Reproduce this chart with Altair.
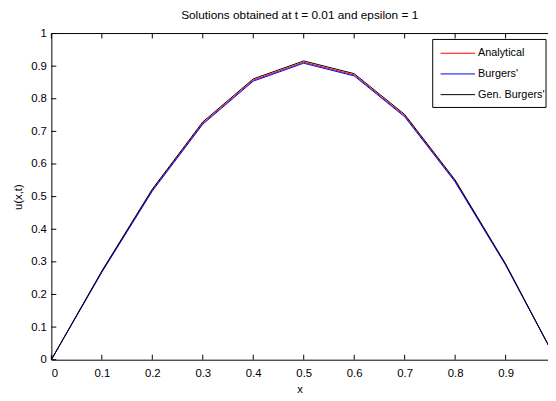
import altair as alt
import pandas as pd

xs = [0.0, 0.1, 0.2, 0.3, 0.4, 0.5, 0.6, 0.7, 0.8, 0.9, 1.0]
analytical = [0.0, 0.270, 0.520, 0.725, 0.857, 0.912, 0.873, 0.748, 0.548, 0.292, 0.0]
burgers = [0.0, 0.268, 0.517, 0.722, 0.854, 0.909, 0.870, 0.745, 0.545, 0.290, 0.0]
gen_burgers = [0.0, 0.272, 0.523, 0.729, 0.861, 0.916, 0.877, 0.752, 0.551, 0.294, 0.0]
series_names = ["Analytical", "Burgers'", "Gen. Burgers'"]
series_colors = ["#ff0000", "#0000ff", "#000000"]
x_ticks = [0.0, 0.1, 0.2, 0.3, 0.4, 0.5, 0.6, 0.7, 0.8, 0.9]
y_ticks = [0.0, 0.1, 0.2, 0.3, 0.4, 0.5, 0.6, 0.7, 0.8, 0.9, 1.0]

rows = []
for name, vals in zip(series_names, [analytical, burgers, gen_burgers]):
    for xv, uv in zip(xs, vals):
        rows.append({"x": xv, "u": uv, "series": name})
df = pd.DataFrame(rows)
xt = pd.DataFrame({"x": x_ticks})
yt = pd.DataFrame({"u": y_ticks})
one = pd.DataFrame({"k": [0]})

W, H = 504, 331
FONT = "Liberation Sans"
xscale = alt.Scale(domain=[0, 0.984], nice=False, zero=False)
yscale = alt.Scale(domain=[0, 1], nice=False)

xaxis = alt.Axis(values=x_ticks, title="x", ticks=False, grid=False,
                 labelPadding=8, titlePadding=5, format="~g",
                 domainColor="black", labelColor="black", titleColor="black",
                 labelFont=FONT, titleFont=FONT, labelFontSize=11.5, titleFontSize=11.5,
                 titleFontWeight="normal")
yaxis = alt.Axis(values=y_ticks, title="u(x,t)", ticks=False, grid=False,
                 labelPadding=5, titlePadding=7, format="~g",
                 domainColor="black", labelColor="black", titleColor="black",
                 labelFont=FONT, titleFont=FONT, labelFontSize=11.5, titleFontSize=11.5,
                 titleFontWeight="normal")

lines = alt.Chart(df).mark_line(clip=True, strokeWidth=1).encode(
    x=alt.X("x:Q", scale=xscale, axis=xaxis),
    y=alt.Y("u:Q", scale=yscale, axis=yaxis),
    color=alt.Color("series:N",
                    scale=alt.Scale(domain=series_names, range=series_colors),
                    legend=None),
    order=alt.Order("x:Q"),
)

bottom_ticks = alt.Chart(xt).mark_rule(color="black", strokeWidth=1).encode(
    x=alt.X("x:Q", scale=xscale, axis=xaxis),
    y=alt.value(H), y2=alt.value(H - 5),
)
top_ticks = alt.Chart(xt).mark_rule(color="black", strokeWidth=1).encode(
    x=alt.X("x:Q", scale=xscale, axis=xaxis),
    y=alt.value(0), y2=alt.value(5),
)
left_ticks = alt.Chart(yt).mark_rule(color="black", strokeWidth=1).encode(
    y=alt.Y("u:Q", scale=yscale, axis=yaxis),
    x=alt.value(0), x2=alt.value(5),
)
top_border = alt.Chart(one).mark_rule(color="black", strokeWidth=1).encode(
    x=alt.value(0), x2=alt.value(W), y=alt.value(0),
)

# legend box (drawn by hand to match MATLAB spacing)
legend_box = alt.Chart(one).mark_rect(fill="white", stroke="black", strokeWidth=1).encode(
    x=alt.value(387), x2=alt.value(502), y=alt.value(6), y2=alt.value(75),
)
legend_layers = [legend_box]
for i, (name, col) in enumerate(zip(series_names, series_colors)):
    yy = 20 + 21 * i
    legend_layers.append(
        alt.Chart(one).mark_rule(color=col, strokeWidth=1).encode(
            x=alt.value(395), x2=alt.value(430), y=alt.value(yy)))
    legend_layers.append(
        alt.Chart(one).mark_text(align="left", baseline="middle", font=FONT,
                                 fontSize=11, color="black").encode(
            x=alt.value(433), y=alt.value(yy), text=alt.value(name)))

chart = alt.layer(lines, bottom_ticks, top_ticks, left_ticks, top_border,
                  *legend_layers).properties(
    width=W, height=H,
    title=alt.Title("Solutions obtained at t = 0.01 and epsilon = 1",
                    fontSize=12, font=FONT, fontWeight="normal", color="black", offset=6),
    autosize=alt.AutoSizeParams(type="none"),
    padding={"left": 44, "top": 23, "right": 0, "bottom": 39},
).configure_view(stroke=None).configure_axis(domainWidth=1)

chart.save("out.html", embed_options={"renderer": "svg", "actions": False})
